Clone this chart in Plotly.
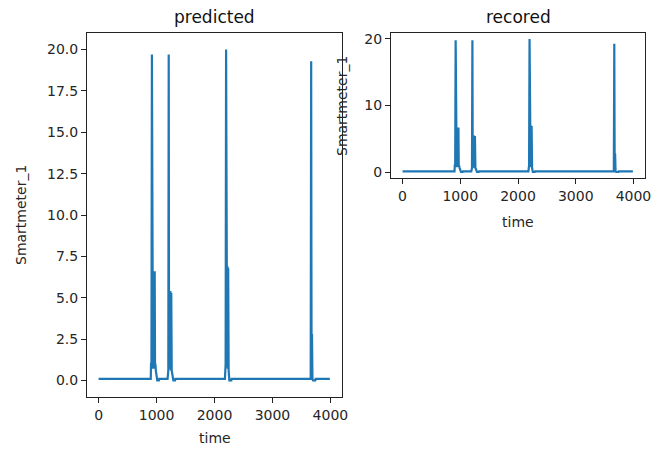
import plotly.graph_objects as go

# predicted series (time, Smartmeter_1)
pred_time = [0, 900, 905, 912, 920, 926, 932, 938, 944, 950, 956, 962, 968, 974, 980, 988, 1000, 1012, 1040, 1045,
             1190, 1197, 1203, 1210, 1216, 1222, 1230, 1238, 1246, 1254, 1262, 1272, 1290, 1320, 1325,
             2180, 2186, 2192, 2200, 2206, 2212, 2218, 2224, 2230, 2236, 2244, 2256, 2290, 2295,
             3650, 3660, 3668, 3675, 3682, 3690, 3700, 3740, 3745, 3990]
pred_value = [0.1, 0.1, 1.0, 1.0, 19.7, 0.9, 6.6, 0.7, 6.6, 0.8, 6.5, 0.8, 6.6, 0.7, 1.0, 0.6, 0.0, 0.0, 0.0, 0.1,
              0.1, 0.6, 0.6, 19.7, 0.7, 5.4, 0.7, 5.4, 0.6, 5.3, 0.6, 0.3, 0.0, 0.0, 0.1,
              0.1, 1.0, 1.0, 20.0, 0.9, 6.9, 0.8, 6.9, 0.7, 6.8, 0.6, 0.0, 0.0, 0.1,
              0.1, 0.1, 19.3, 0.3, 2.8, 0.1, 0.0, 0.0, 0.1, 0.1]

rec_time = [0, 900, 905, 912, 920, 926, 932, 938, 944, 950, 956, 962, 968, 974, 980, 988, 1000, 1012, 1040, 1045,
            1190, 1197, 1203, 1210, 1216, 1222, 1230, 1238, 1246, 1254, 1262, 1272, 1290, 1320, 1325,
            2180, 2186, 2192, 2200, 2206, 2212, 2218, 2224, 2230, 2236, 2244, 2256, 2290, 2295,
            3650, 3660, 3668, 3675, 3682, 3690, 3700, 3740, 3745, 3990]
rec_value = [0.1, 0.1, 1.0, 1.0, 19.8, 0.9, 6.7, 0.7, 6.7, 0.8, 6.6, 0.8, 6.7, 0.7, 1.0, 0.6, 0.0, 0.0, 0.0, 0.1,
             0.1, 0.6, 0.6, 19.8, 0.7, 5.5, 0.7, 5.5, 0.6, 5.4, 0.6, 0.3, 0.0, 0.0, 0.1,
             0.1, 1.0, 1.0, 20.0, 0.9, 7.0, 0.8, 7.0, 0.7, 6.9, 0.6, 0.0, 0.0, 0.1,
             0.1, 0.1, 19.3, 0.3, 2.8, 0.1, 0.0, 0.0, 0.1, 0.1]

x_ticks = [0, 1000, 2000, 3000, 4000]
left_y_ticks = [0, 2.5, 5, 7.5, 10, 12.5, 15, 17.5, 20]
right_y_ticks = [0, 10, 20]

W, H = 652, 452
blue = "#1f77b4"
font = dict(family="DejaVu Sans", size=14, color="#262626")
title_font = dict(family="DejaVu Sans", size=17, color="#111")

fig = go.Figure()
fig.add_trace(go.Scatter(x=pred_time, y=pred_value, mode="lines",
                         line=dict(color=blue, width=2.2), xaxis="x", yaxis="y"))
fig.add_trace(go.Scatter(x=rec_time, y=rec_value, mode="lines",
                         line=dict(color=blue, width=2.2), xaxis="x2", yaxis="y2"))

axis_common = dict(showline=True, mirror=True, linecolor="#222", linewidth=1,
                   ticks="outside", ticklen=5, tickcolor="#222", showgrid=False,
                   zeroline=False, tickfont=font, automargin=False)


def label(text, x, y, f, angle=0):
    return dict(text=text, x=x / W, y=1 - y / H, xref="paper", yref="paper",
                xanchor="center", yanchor="middle", textangle=angle,
                showarrow=False, font=f)


fig.update_layout(
    width=W, height=H, margin=dict(l=0, r=0, t=0, b=0),
    paper_bgcolor="white", plot_bgcolor="white", showlegend=False, font=font,
    xaxis=dict(domain=[87 / W, 342 / W], range=[-200, 4200], tickvals=x_ticks, **axis_common),
    yaxis=dict(domain=[1 - 397 / H, 1 - 33 / H], range=[-1.0, 21.0], tickvals=left_y_ticks,
               tickformat=".1f", **axis_common),
    xaxis2=dict(domain=[391 / W, 645 / W], range=[-200, 4200], tickvals=x_ticks, anchor="y2",
                **axis_common),
    yaxis2=dict(domain=[1 - 178 / H, 1 - 33 / H], range=[-0.9, 20.9], tickvals=right_y_ticks,
                anchor="x2", **axis_common),
    annotations=[
        label("predicted", (87 + 342) / 2, 17, title_font),
        label("recored", (391 + 645) / 2, 17, title_font),
        label("time", (87 + 342) / 2, 438, font),
        label("time", (391 + 645) / 2, 222, font),
        label("Smartmeter_1", 21, 215, font, -90),
        label("Smartmeter_1", 342, 106, font, -90),
    ],
)

fig.write_html("out.html", config={"displayModeBar": False},
               post_script="document.body.style.margin='0';")
